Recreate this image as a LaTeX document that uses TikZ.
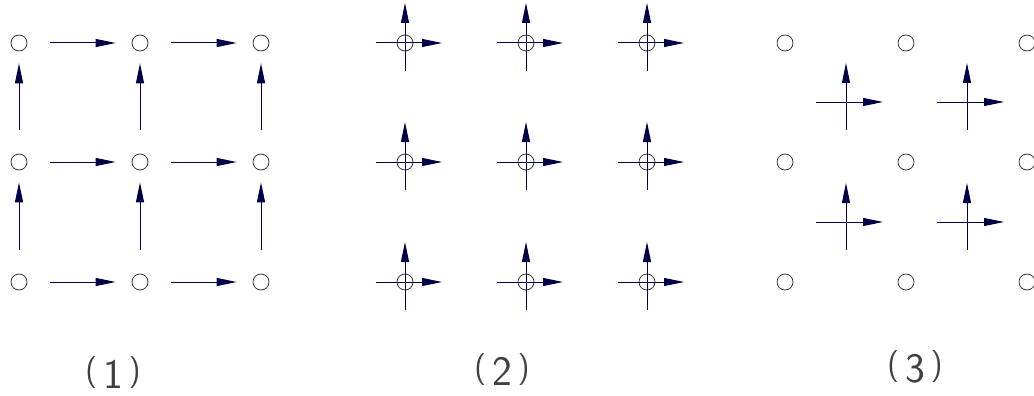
\documentclass[tikz,border=0pt]{standalone}
\usetikzlibrary{arrows.meta}
\definecolor{navy}{RGB}{0,0,70}
\newcommand{\plab}[1]{{\fontsize{32}{32}\selectfont\raisebox{7.5pt}{(}}\hspace{6pt}{\fontsize{42}{42}\selectfont #1}\hspace{6pt}{\fontsize{32}{32}\selectfont\raisebox{7.5pt}{)}}}
\begin{document}
\begin{tikzpicture}[x=1pt,y=-1pt,
  pt/.style={circle,draw=black!85,line width=0.7pt,minimum size=16pt,inner sep=0pt},
  arr/.style={draw=navy,line width=1pt,-{Triangle[length=20pt,width=8pt]}},
  lab/.style={font=\sffamily,text=black!75,anchor=base,inner sep=0pt}]
\useasboundingbox (0,0) rectangle (1034,396);
% panel 1
\foreach \i/\x in {1/19,2/140,3/261}{
  \foreach \j/\y in {1/43,2/162,3/282}{
    \node[pt] (a\i\j) at (\x,\y) {};
  }}
\foreach \i/\n in {1/2,2/3}{
  \foreach \j in {1,2,3}{
    \draw[arr,shorten <=23pt,shorten >=16pt] (a\i\j) -- (a\n\j);
  }}
\foreach \i in {1,2,3}{
  \draw[arr,shorten <=24pt,shorten >=12pt] (a\i2) -- (a\i1);
  \draw[arr,shorten <=24pt,shorten >=12pt] (a\i3) -- (a\i2);
}
% panel 2
\foreach \i/\x in {1/405,2/526,3/647}{
  \foreach \j/\y in {1/43,2/162,3/282}{
    \node[pt] (b\i\j) at (\x,\y) {};
    \coordinate (bl\i\j) at (\x-29,\y);
    \coordinate (br\i\j) at (\x+37,\y);
    \coordinate (bb\i\j) at (\x,\y+28);
    \coordinate (bt\i\j) at (\x,\y-40);
    \draw[arr] (bl\i\j) -- (br\i\j);
    \draw[arr] (bb\i\j) -- (bt\i\j);
  }}
% panel 3
\foreach \i/\x in {1/785,2/906,3/1027}{
  \foreach \j/\y in {1/43,2/162,3/282}{
    \node[pt] (c\i\j) at (\x,\y) {};
  }}
\foreach \i/\x in {1/846,2/967}{
  \foreach \j/\y in {1/102,2/222}{
    \coordinate (cl\i\j) at (\x-30,\y);
    \coordinate (cr\i\j) at (\x+37,\y);
    \coordinate (cb\i\j) at (\x,\y+28);
    \coordinate (ct\i\j) at (\x,\y-39);
    \draw[arr] (cl\i\j) -- (cr\i\j);
    \draw[arr] (cb\i\j) -- (ct\i\j);
  }}
% labels
\node[lab] (l1) at (113,388) {\plab{1}};
\node[lab] (l2) at (502,385) {\plab{2}};
\node[lab] (l3) at (915,382) {\plab{3}};
\end{tikzpicture}
\end{document}
